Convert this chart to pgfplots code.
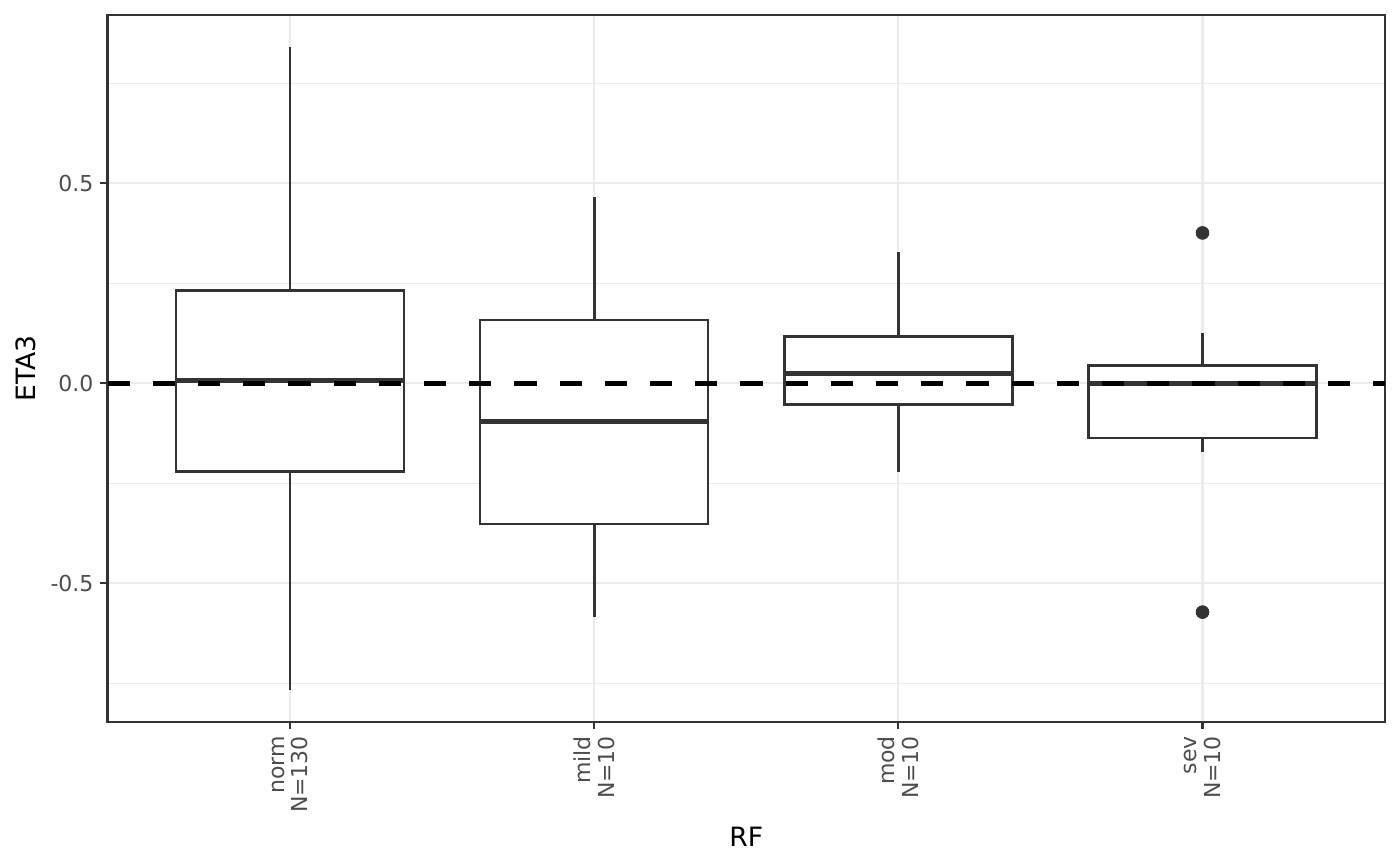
\documentclass[border=0pt]{standalone}
\usepackage{pgfplots}
\pgfplotsset{compat=1.18}
\usepackage{fontspec}
\setmainfont{DejaVu Sans}
\definecolor{gray20}{HTML}{333333}
\definecolor{gray30}{HTML}{4D4D4D}
\definecolor{grid92}{HTML}{EBEBEB}
\begin{document}
\begin{tikzpicture}
\useasboundingbox (-53.75pt,-72pt) rectangle (646.25pt,361pt);
\begin{axis}[
  at={(0,0)}, anchor=south west,
  scale only axis, width=638.75pt, height=353.5pt,
  xmin=0.4, xmax=4.6, ymin=-0.8467, ymax=0.9208,
  xtick={1,2,3,4},
  xticklabels={{norm\\N=130},{mild\\N=10},{mod\\N=10},{sev\\N=10}},
  ytick={-0.5,0,0.5}, yticklabels={-0.5,0.0,0.5},
  minor ytick={-0.75,-0.25,0.25,0.75},
  grid=both,
  major grid style={grid92, line width=1.1pt},
  minor grid style={grid92, line width=0.55pt},
  tick pos=left, tick align=outside,
  major tick length=3.5pt, minor tick length=0pt,
  every tick/.style={gray20, line width=1.1pt},
  axis line style={gray20, line width=1.1pt},
  xticklabel style={rotate=90, anchor=east, align=right, font=\fontsize{11}{11.7}\selectfont, text=gray30},
  yticklabel style={font=\fontsize{11}{13}\selectfont, text=gray30},
  xlabel={RF}, ylabel={ETA3},
  xlabel style={at={(axis description cs:0.5,-0.1754)}, anchor=base, font=\fontsize{13.3}{16}\selectfont},
  ylabel style={at={(axis description cs:-0.0642,0.5)}, anchor=center, font=\fontsize{13.3}{16}\selectfont},
  box/.style={draw=gray20, fill=white, line width=1.25pt},
  whisk/.style={draw=gray20, line width=1.35pt},
  med/.style={draw=gray20, line width=2.5pt},
]
% norm
\addplot[whisk] coordinates {(1,0.2325) (1,0.841)};
\addplot[whisk] coordinates {(1,-0.22) (1,-0.7675)};
\addplot[box] coordinates {(0.625,-0.22) (1.375,-0.22) (1.375,0.2325) (0.625,0.2325)} -- cycle;
\addplot[med] coordinates {(0.625,0.0075) (1.375,0.0075)};
% mild
\addplot[whisk] coordinates {(2,0.158) (2,0.4665)};
\addplot[whisk] coordinates {(2,-0.352) (2,-0.5835)};
\addplot[box] coordinates {(1.625,-0.352) (2.375,-0.352) (2.375,0.158) (1.625,0.158)} -- cycle;
\addplot[med] coordinates {(1.625,-0.095) (2.375,-0.095)};
% mod
\addplot[whisk] coordinates {(3,0.1167) (3,0.329)};
\addplot[whisk] coordinates {(3,-0.0525) (3,-0.221)};
\addplot[box] coordinates {(2.625,-0.0525) (3.375,-0.0525) (3.375,0.1167) (2.625,0.1167)} -- cycle;
\addplot[med] coordinates {(2.625,0.025) (3.375,0.025)};
% sev
\addplot[whisk] coordinates {(4,0.045) (4,0.125)};
\addplot[whisk] coordinates {(4,-0.137) (4,-0.172)};
\addplot[box] coordinates {(3.625,-0.137) (4.375,-0.137) (4.375,0.045) (3.625,0.045)} -- cycle;
\addplot[med] coordinates {(3.625,0.0) (4.375,0.0)};
\addplot[only marks, mark=*, mark size=3.2pt, draw=gray20, fill=gray20]
  coordinates {(4,0.376) (4,-0.572)};
% reference line
\addplot[black, line width=2.4pt, dash pattern=on 11.1pt off 11.5pt]
  coordinates {(0.4,0) (4.6,0)};
\end{axis}
\end{tikzpicture}
\end{document}
